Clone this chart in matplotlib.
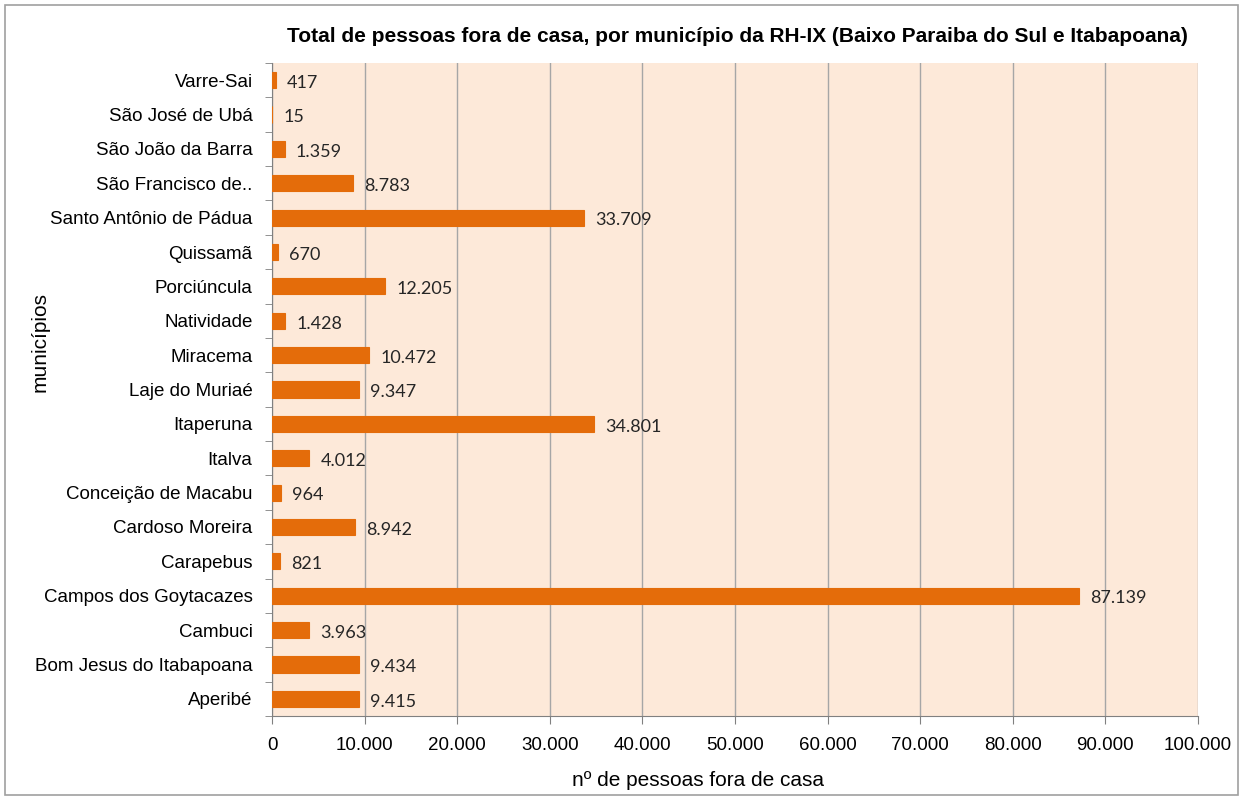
import matplotlib
import matplotlib.pyplot as plt
import numpy as np
from matplotlib.ticker import FuncFormatter, FixedLocator

matplotlib.use('Agg')

municipios = ['Aperibé', 'Bom Jesus do Itabapoana', 'Cambuci', 'Campos dos Goytacazes',
              'Carapebus', 'Cardoso Moreira', 'Conceição de Macabu', 'Italva', 'Itaperuna',
              'Laje do Muriaé', 'Miracema', 'Natividade', 'Porciúncula', 'Quissamã',
              'Santo Antônio de Pádua', 'São Francisco de..', 'São João da Barra',
              'São José de Ubá', 'Varre-Sai']
pessoas = [9415, 9434, 3963, 87139, 821, 8942, 964, 4012, 34801, 9347, 10472,
           1428, 12205, 670, 33709, 8783, 1359, 15, 417]

plt.rcParams['font.family'] = ['Liberation Sans', 'DejaVu Sans']

fig = plt.figure(figsize=(12.43, 7.98), dpi=100)
ax = fig.add_axes([272 / 1243, 1 - 716 / 798, (1198 - 272) / 1243, (716 - 63) / 798])
ax.set_facecolor('#FDE9D9')

y = np.arange(len(municipios))
ax.barh(y, pessoas, height=0.47, color='#E46C0A', edgecolor='#E46C0A', linewidth=0.8, zorder=3)

def fmt(v):
    return f'{int(v):,}'.replace(',', '.')

for yi, v in zip(y, pessoas):
    ax.text(v + 1200, yi - 0.08, fmt(v), va='center', ha='left', fontsize=13,
            color='#262626', family=['Lato', 'DejaVu Sans'])

ax.set_xlim(0, 100000)
ax.set_ylim(-0.5, len(municipios) - 0.5)
ax.set_xticks(np.arange(0, 100001, 10000))
ax.xaxis.set_major_formatter(FuncFormatter(lambda v, p: fmt(v)))
ax.set_yticks(y)
ax.set_yticklabels(municipios)
ax.yaxis.set_minor_locator(FixedLocator(np.arange(-0.5, len(municipios), 1)))
ax.tick_params(axis='y', which='major', length=0, pad=14, labelsize=13.5, labelcolor='black')
ax.tick_params(axis='y', which='minor', length=5, color='#808080')
ax.tick_params(axis='x', length=6, color='#808080', labelsize=13.5, pad=9)
ax.grid(axis='x', color='#A6A6A6', linewidth=1, zorder=0)

for side in ['top', 'right']:
    ax.spines[side].set_visible(False)
for side in ['left', 'bottom']:
    ax.spines[side].set_color('#808080')

fig.text(698 / 1243, 1 - 780 / 798, 'nº de pessoas fora de casa', ha='center', va='center', fontsize=15)
fig.text(40 / 1243, 1 - 342 / 798, 'municípios', rotation=90, ha='center', va='center', fontsize=15)
fig.text(737 / 1243, 1 - 37 / 798,
         'Total de pessoas fora de casa, por município da RH-IX (Baixo Paraiba do Sul e Itabapoana)',
         ha='center', va='center', fontsize=15, fontweight='bold')

fig.patches.append(plt.Rectangle((0.004, 0.004), 0.992, 0.99, transform=fig.transFigure,
                                 fill=False, edgecolor='#A0A0A0', linewidth=1.2))

fig.savefig('out.png', dpi=100)
